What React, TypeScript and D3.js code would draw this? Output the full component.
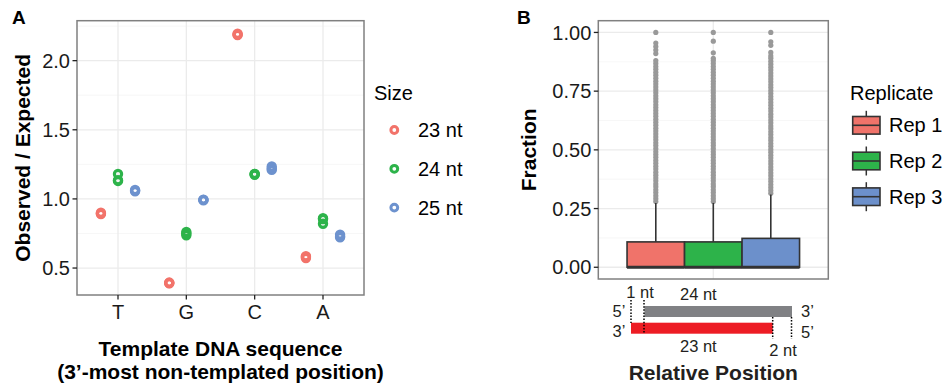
import * as d3 from "d3"

// ---- Panel A data ----
const bases = ["T", "G", "C", "A"]
const sizes = ["23 nt", "24 nt", "25 nt"]
const sizeColors = ["#F2736A", "#2DB34A", "#6D92CE"]
// observed / expected, three replicates per template base (T, G, C, A)
const obs23 = [[0.89, 0.895, 0.9], [0.39, 0.392, 0.395], [2.185, 2.19, 2.195], [0.572, 0.58, 0.585]]
const obs24 = [[1.13, 1.135, 1.18], [0.737, 0.75, 0.761], [1.175, 1.18, 1.18], [0.82, 0.855, 0.86]]
const obs25 = [[1.055, 1.06, 1.065], [0.99, 0.993, 0.995], [1.21, 1.22, 1.235], [0.723, 0.73, 0.742]]
const yTicksA = [0.5, 1.0, 1.5, 2.0]
const yMinorA = [0.75, 1.25, 1.75, 2.25]

// ---- Panel B data ----
const reps = ["Rep 1", "Rep 2", "Rep 3"]
const repColors = ["#F0736A", "#2DB34A", "#6C90CB"]
const lowerHinge = [0, 0, 0]
const medians = [0, 0, 0]
const upperHinge = [0.108, 0.108, 0.123]
const whiskerHi = [0.274, 0.274, 0.31]
const outliers1 = [0.28, 0.292, 0.305, 0.318, 0.33, 0.343, 0.355, 0.368, 0.38, 0.392, 0.405, 0.418, 0.43, 0.443, 0.455, 0.468, 0.48, 0.492, 0.505, 0.518, 0.53, 0.543, 0.555, 0.568, 0.58, 0.592, 0.605, 0.618, 0.63, 0.643, 0.655, 0.668, 0.68, 0.692, 0.705, 0.718, 0.73, 0.743, 0.755, 0.768, 0.78, 0.792, 0.805, 0.818, 0.83, 0.843, 0.855, 0.868, 0.88, 0.91, 0.925, 0.94, 0.955, 1.0]
const outliers2 = [0.28, 0.292, 0.305, 0.318, 0.33, 0.343, 0.355, 0.368, 0.38, 0.392, 0.405, 0.418, 0.43, 0.443, 0.455, 0.468, 0.48, 0.492, 0.505, 0.518, 0.53, 0.543, 0.555, 0.568, 0.58, 0.592, 0.605, 0.618, 0.63, 0.643, 0.655, 0.668, 0.68, 0.692, 0.705, 0.718, 0.73, 0.743, 0.755, 0.768, 0.78, 0.792, 0.805, 0.818, 0.83, 0.843, 0.855, 0.868, 0.88, 0.89, 0.913, 0.963, 1.0]
const outliers3 = [0.315, 0.327, 0.34, 0.352, 0.365, 0.377, 0.39, 0.402, 0.415, 0.427, 0.44, 0.452, 0.465, 0.477, 0.49, 0.502, 0.515, 0.527, 0.54, 0.552, 0.565, 0.577, 0.59, 0.602, 0.615, 0.627, 0.64, 0.652, 0.665, 0.677, 0.69, 0.702, 0.715, 0.727, 0.74, 0.752, 0.765, 0.777, 0.79, 0.802, 0.815, 0.827, 0.84, 0.852, 0.865, 0.877, 0.89, 0.9, 0.915, 0.945, 0.96, 1.0]
const yTicksB = [0, 0.25, 0.5, 0.75, 1]
const yMinorB = [0.125, 0.375, 0.625, 0.875]

const font = "'Liberation Sans', Arial, Helvetica, sans-serif"
const gridMajor = "#ebebeb"
const gridMinor = "#f5f5f5"
const borderCol = "#808080"
const boxLine = "#333333"

export default function App() {
  // panel A
  const A = { left: 77, right: 364, top: 20.7, bottom: 295 }
  const xA = d3.scalePoint<string>().domain(bases).range([A.left, A.right]).padding(0.6)
  const yA = d3.scaleLinear().domain([0.305, 2.289]).range([A.bottom, A.top])
  const dodge = xA.step() * 0.25
  const seriesA = [obs23, obs24, obs25]

  // panel B
  const B = { left: 598.3, right: 828.3, top: 20.7, bottom: 279 }
  const xB = d3.scalePoint<string>().domain(["pos"]).range([B.left, B.right]).padding(0.6)
  const cB = xB("pos")!
  const groupW = xB.step() * 0.9
  const xRep = d3.scaleBand<string>().domain(reps).range([cB - groupW / 2, cB + groupW / 2])
  const yB = d3.scaleLinear().domain([-0.05, 1.05]).range([B.bottom, B.top])
  const outliers = [outliers1, outliers2, outliers3]

  const dotted = { stroke: "#000", strokeWidth: 1.5, strokeDasharray: "1.5 1.6" }

  return (
    <svg width={947} height={387} style={{ position: "absolute", left: 0, top: 0, background: "#fff" }} fontFamily={font}>
      {/* ---------- Panel A ---------- */}
      <text x={12} y={24} fontSize={19} fontWeight="bold">A</text>
      <rect x={A.left} y={A.top} width={A.right - A.left} height={A.bottom - A.top} fill="#fff" />
      {yMinorA.map(v => (
        <line key={"am" + v} x1={A.left} x2={A.right} y1={yA(v)} y2={yA(v)} stroke={gridMinor} strokeWidth={0.8} />
      ))}
      {yTicksA.map(v => (
        <line key={"ag" + v} x1={A.left} x2={A.right} y1={yA(v)} y2={yA(v)} stroke={gridMajor} strokeWidth={1.3} />
      ))}
      {bases.map(b => (
        <line key={"av" + b} x1={xA(b)} x2={xA(b)} y1={A.top} y2={A.bottom} stroke={gridMajor} strokeWidth={1.3} />
      ))}
      {seriesA.map((series, si) =>
        series.map((vals, bi) =>
          vals.map((v, ri) => (
            <circle
              key={`p${si}-${bi}-${ri}`}
              cx={xA(bases[bi])! + (si - 1) * dodge}
              cy={yA(v)}
              r={3.6}
              fill="none"
              stroke={sizeColors[si]}
              strokeWidth={3.2}
            />
          ))
        )
      )}
      <rect x={A.left} y={A.top} width={A.right - A.left} height={A.bottom - A.top} fill="none" stroke={borderCol} strokeWidth={1.5} />
      {yTicksA.map(v => (
        <g key={"at" + v}>
          <line x1={A.left - 4.5} x2={A.left} y1={yA(v)} y2={yA(v)} stroke="#222" strokeWidth={1.3} />
          <text x={A.left - 7} y={yA(v)} dy="0.36em" textAnchor="end" fontSize={20} fill="#1a1a1a">{v.toFixed(1)}</text>
        </g>
      ))}
      {bases.map(b => (
        <g key={"ax" + b}>
          <line x1={xA(b)} x2={xA(b)} y1={A.bottom} y2={A.bottom + 4.5} stroke="#222" strokeWidth={1.3} />
          <text x={xA(b)} y={319} textAnchor="middle" fontSize={20} fill="#1a1a1a">{b}</text>
        </g>
      ))}
      <text transform={`translate(30,${(A.top + A.bottom) / 2}) rotate(-90)`} textAnchor="middle" fontSize={21} fontWeight="bold">Observed / Expected</text>
      <text x={(A.left + A.right) / 2} y={356} textAnchor="middle" fontSize={21} fontWeight="bold">Template DNA sequence</text>
      <text x={(A.left + A.right) / 2} y={379} textAnchor="middle" fontSize={21} fontWeight="bold">(3’-most non-templated position)</text>

      {/* legend A */}
      <text x={374} y={100} fontSize={20}>Size</text>
      {sizes.map((s, i) => (
        <g key={"lg" + s}>
          <circle cx={394.3} cy={130 + i * 38.8} r={3.4} fill="none" stroke={sizeColors[i]} strokeWidth={3} />
          <text x={418} y={130 + i * 38.8 + 7} fontSize={20}>{s}</text>
        </g>
      ))}

      {/* ---------- Panel B ---------- */}
      <text x={517} y={24} fontSize={19} fontWeight="bold">B</text>
      <rect x={B.left} y={B.top} width={B.right - B.left} height={B.bottom - B.top} fill="#fff" />
      {yMinorB.map(v => (
        <line key={"bm" + v} x1={B.left} x2={B.right} y1={yB(v)} y2={yB(v)} stroke={gridMinor} strokeWidth={0.8} />
      ))}
      {yTicksB.map(v => (
        <line key={"bg" + v} x1={B.left} x2={B.right} y1={yB(v)} y2={yB(v)} stroke={gridMajor} strokeWidth={1.3} />
      ))}
      <line x1={cB} x2={cB} y1={B.top} y2={B.bottom} stroke={gridMajor} strokeWidth={1.3} />
      {reps.map((r, i) => {
        const x0 = xRep(r)!
        const w = xRep.bandwidth()
        const cx = x0 + w / 2
        return (
          <g key={"box" + r}>
            {outliers[i].map((v, j) => (
              <circle key={j} cx={cx} cy={yB(v)} r={2.6} fill="#999999" />
            ))}
            <line x1={cx} x2={cx} y1={yB(upperHinge[i])} y2={yB(whiskerHi[i])} stroke={boxLine} strokeWidth={1.6} />
            <rect x={x0} y={yB(upperHinge[i])} width={w} height={yB(lowerHinge[i]) - yB(upperHinge[i])} fill={repColors[i]} stroke={boxLine} strokeWidth={1.6} />
            <line x1={x0} x2={x0 + w} y1={yB(medians[i])} y2={yB(medians[i])} stroke={boxLine} strokeWidth={3.2} />
          </g>
        )
      })}
      <rect x={B.left} y={B.top} width={B.right - B.left} height={B.bottom - B.top} fill="none" stroke={borderCol} strokeWidth={1.5} />
      {yTicksB.map(v => (
        <g key={"bt" + v}>
          <line x1={B.left - 4.5} x2={B.left} y1={yB(v)} y2={yB(v)} stroke="#222" strokeWidth={1.3} />
          <text x={B.left - 7} y={yB(v)} dy="0.36em" textAnchor="end" fontSize={20} fill="#1a1a1a">{v.toFixed(2)}</text>
        </g>
      ))}
      <text transform={`translate(536,${(B.top + B.bottom) / 2}) rotate(-90)`} textAnchor="middle" fontSize={21} fontWeight="bold">Fraction</text>

      {/* schematic under panel B */}
      <g fontSize={16.5} fill="#231f20">
        <text x={640} y={298} textAnchor="middle">1 nt</text>
        <text x={680} y={299.5}>24 nt</text>
        <text x={612.5} y={317}>5’</text>
        <text x={801} y={317}>3’</text>
        <text x={612.5} y={337}>3’</text>
        <text x={801} y={338}>5’</text>
        <text x={680} y={352}>23 nt</text>
        <text x={769.3} y={356}>2 nt</text>
      </g>
      <rect x={644.5} y={306} width={147.5} height={11} fill="#808184" />
      <rect x={631} y={322.7} width={141.7} height={11} fill="#ED1C24" />
      <line x1={631} x2={631} y1={300} y2={323} {...dotted} />
      <line x1={644} x2={644} y1={300} y2={333} {...dotted} />
      <line x1={772.7} x2={772.7} y1={317} y2={339} {...dotted} />
      <line x1={791.5} x2={791.5} y1={317} y2={339} {...dotted} />
      <text x={cB} y={380} textAnchor="middle" fontSize={21} fontWeight="bold" fill="#231f20">Relative Position</text>

      {/* legend B */}
      <text x={850} y={100} fontSize={20}>Replicate</text>
      {reps.map((r, i) => {
        const cy = 125.3 + i * 35.7
        return (
          <g key={"lb" + r}>
            <line x1={866.3} x2={866.3} y1={cy - 14.5} y2={cy + 14.5} stroke={boxLine} strokeWidth={1.5} />
            <rect x={852.7} y={cy - 8.8} width={27.3} height={17.6} fill={repColors[i]} stroke={boxLine} strokeWidth={1.6} />
            <line x1={852.7} x2={880} y1={cy} y2={cy} stroke={boxLine} strokeWidth={1.6} />
            <text x={889} y={cy + 7} fontSize={20}>{r}</text>
          </g>
        )
      })}
    </svg>
  )
}
